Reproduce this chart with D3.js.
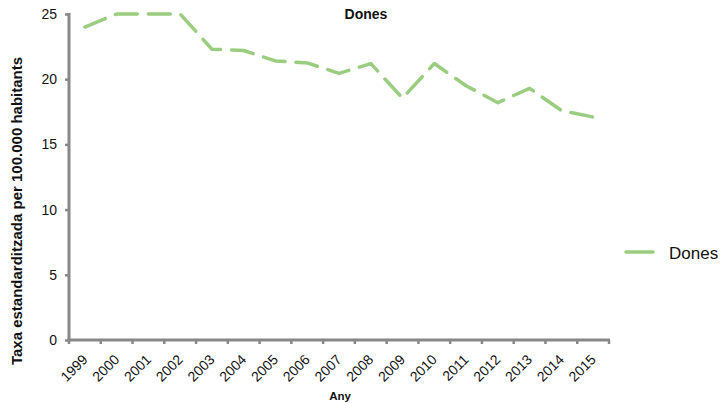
<!DOCTYPE html>
<html>
<head>
<meta charset="utf-8">
<script src="https://cdn.jsdelivr.net/npm/d3@7"></script>
<style>
  body { margin: 0; background: #fff; }
  text { font-family: "Liberation Sans", Arial, sans-serif; }
</style>
</head>
<body>
<svg id="chart" width="721" height="403"></svg>
<script>
const years = ["1999","2000","2001","2002","2003","2004","2005","2006","2007","2008","2009","2010","2011","2012","2013","2014","2015"];
const dones = [24.0, 25.0, 25.0, 25.0, 22.3, 22.2, 21.4, 21.25, 20.45, 21.2, 18.55, 21.2, 19.5, 18.2, 19.3, 17.6, 17.1];
const yTicks = [0, 5, 10, 15, 20, 25];
const seriesName = "Dones";
const chartTitle = "Dones";
const yLabel = "Taxa estandarditzada per 100.000 habitants";
const xLabel = "Any";

const svg = d3.select("#chart");
const mLeft = 69, mRight = 609, mTop = 14, mBottom = 340;
const axisColor = "#888888";
const lineColor = "#9ACD7F";

const x = d3.scaleBand().domain(years).range([mLeft, mRight]).padding(0);
const y = d3.scaleLinear().domain([0, 25]).range([mBottom, mTop]);

// title
svg.append("text").attr("x", 366).attr("y", 18.5).attr("text-anchor", "middle")
  .attr("font-size", 14).attr("font-weight", "bold").attr("fill", "#111").text(chartTitle);

// y axis
const yAxis = svg.append("g").attr("transform", `translate(${mLeft},0)`)
  .call(d3.axisLeft(y).tickValues(yTicks).tickSize(4).tickPadding(8).tickFormat(d3.format("d")));
yAxis.select(".domain").attr("stroke", axisColor).attr("stroke-width", 3)
  .attr("d", `M0,${mTop - 1}V${mBottom + 1.5}`);
yAxis.selectAll(".tick line").attr("stroke", axisColor).attr("stroke-width", 2.5);
yAxis.selectAll(".tick text").attr("font-size", 14).attr("fill", "#111")
  .attr("font-family", "Liberation Sans, Arial, sans-serif");

// x axis with ticks at category boundaries
const xg = svg.append("g").attr("transform", `translate(0,${mBottom})`);
xg.append("path").attr("d", `M${mLeft - 1.5},0H${mRight + 1}`).attr("stroke", axisColor).attr("stroke-width", 3).attr("fill", "none");
const boundaries = years.map(d => x(d)).concat([x(years[years.length - 1]) + x.bandwidth()]);
xg.selectAll("line.tk").data(boundaries).join("line").attr("class", "tk")
  .attr("x1", d => d).attr("x2", d => d).attr("y1", 0).attr("y2", 4)
  .attr("stroke", axisColor).attr("stroke-width", 2.5);
xg.selectAll("text.lbl").data(years).join("text").attr("class", "lbl")
  .attr("transform", d => `translate(${x(d) + x.bandwidth() / 2 - 3.5},${13.5}) rotate(-45)`)
  .attr("text-anchor", "end").attr("dy", "0.71em").attr("font-size", 14).attr("fill", "#111")
  .text(d => d);

// axis labels
svg.append("text").attr("transform", `translate(21.5,211) rotate(-90)`)
  .attr("text-anchor", "middle").attr("font-size", 15).attr("font-weight", "bold").attr("fill", "#111")
  .text(yLabel);
svg.append("text").attr("x", 340).attr("y", 400).attr("text-anchor", "middle")
  .attr("font-size", 11.5).attr("font-weight", "bold").attr("fill", "#111").text(xLabel);

// line
const line = d3.line().x((d, i) => x(years[i]) + x.bandwidth() / 2).y(d => y(d));
svg.append("path").datum(dones).attr("d", line).attr("fill", "none")
  .attr("stroke", lineColor).attr("stroke-width", 3.5).attr("stroke-linecap", "round")
  .attr("stroke-linejoin", "round").attr("stroke-dasharray", "22,11");

// legend
svg.append("line").attr("x1", 626).attr("x2", 653).attr("y1", 252).attr("y2", 252)
  .attr("stroke", lineColor).attr("stroke-width", 3.5).attr("stroke-linecap", "round");
svg.append("text").attr("x", 669).attr("y", 258.5).attr("font-size", 17).attr("fill", "#111").text(seriesName);
</script>
</body>
</html>
